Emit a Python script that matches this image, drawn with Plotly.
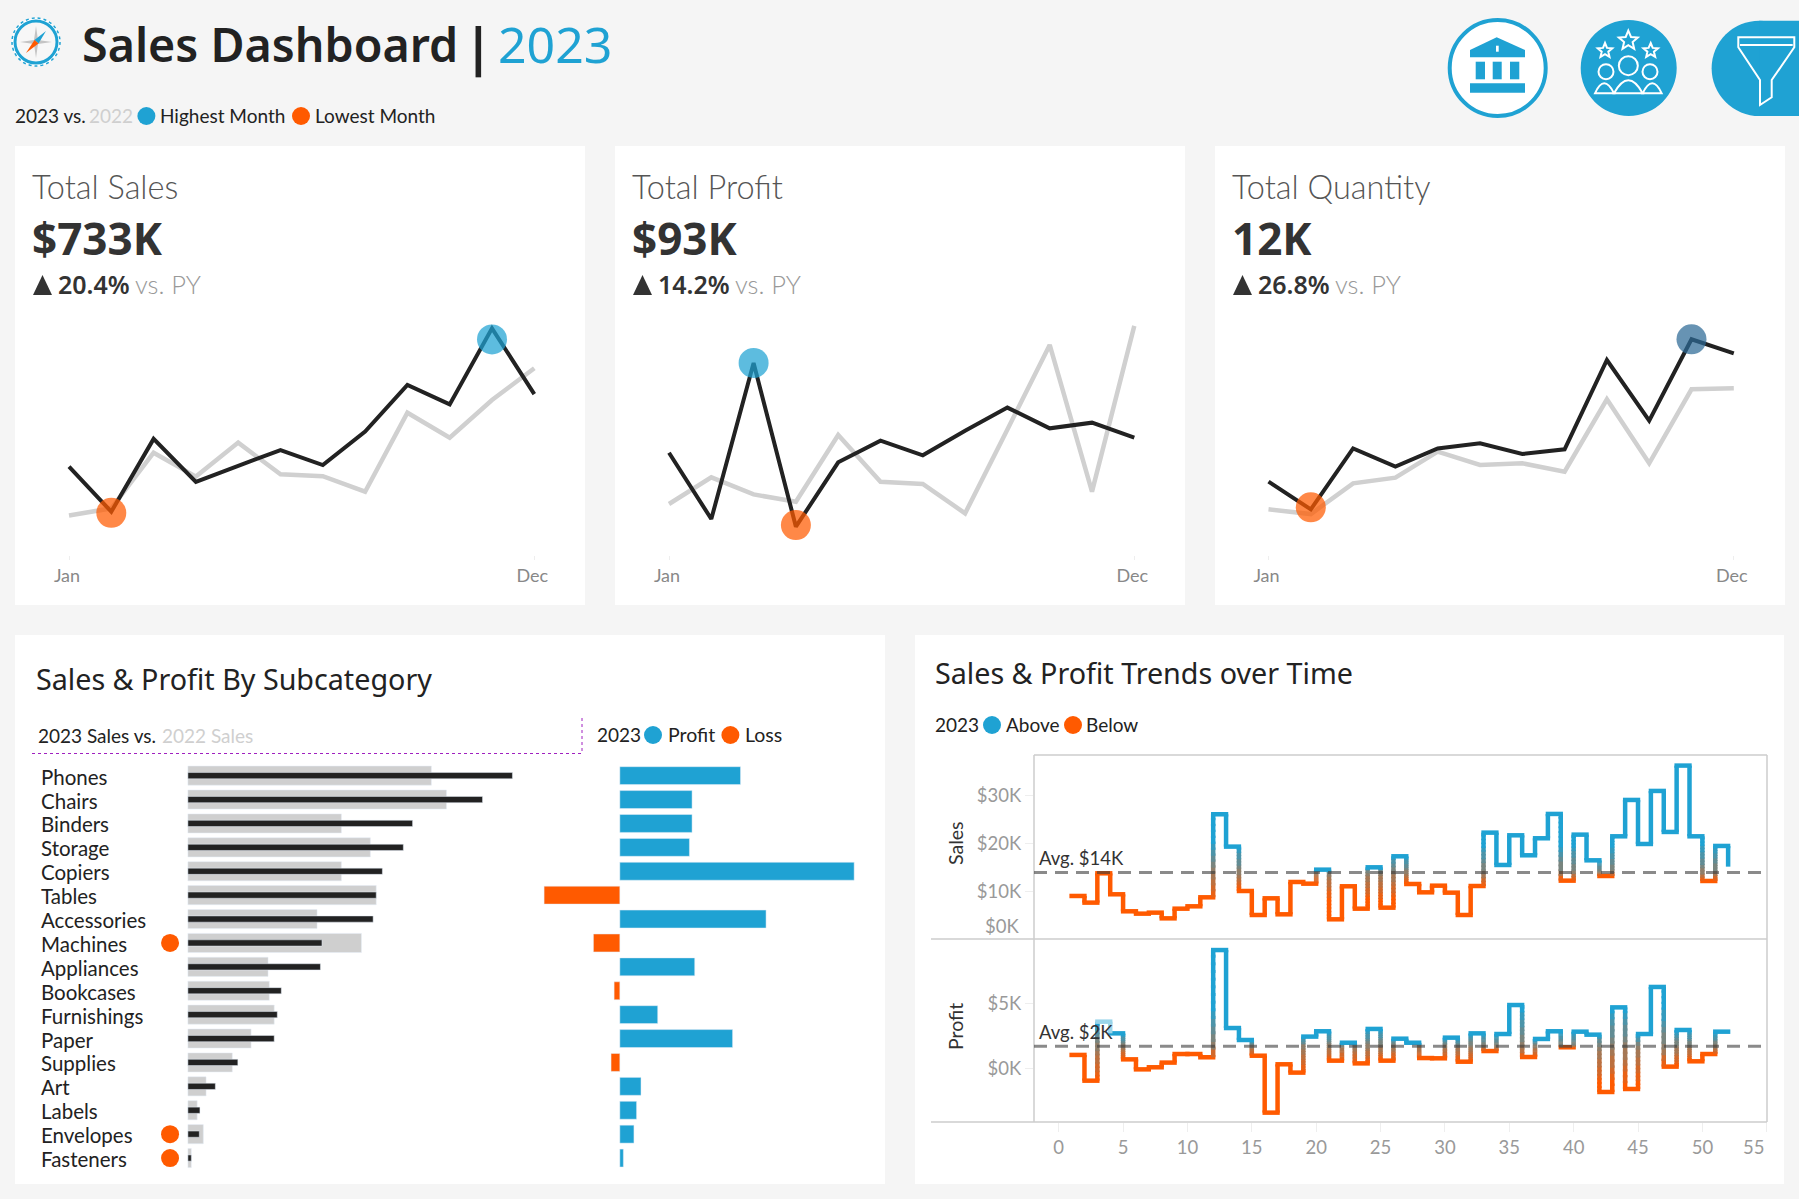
import math
import plotly.graph_objects as go

W, H = 1799, 1199
BG = "#F5F5F5"
BLUE = "#1FA2D3"
ORANGE = "#FF5A00"
LIGHT_BLUE = "#9AD5EA"
GREY_LINE = "#D0D0D0"
DARK = "#222222"
HEAD_FONT = "Noto Sans"
BODY_FONT = "Lato"

months = ["Jan", "Feb", "Mar", "Apr", "May", "Jun", "Jul", "Aug", "Sep", "Oct", "Nov", "Dec"]

sales_2023 = [44.1, 20.0, 59.0, 36.0, 44.6, 53.0, 45.0, 62.9, 87.9, 77.5, 118.2, 83.0]
sales_2022 = [18.0, 21.8, 51.6, 38.8, 57.0, 40.0, 39.0, 30.7, 73.0, 59.6, 79.8, 96.8]
profit_2023 = [7.18, 1.58, 14.76, 0.93, 6.37, 8.2, 6.96, 9.04, 10.99, 9.24, 9.72, 8.45]
profit_2022 = [2.85, 5.1, 3.66, 3.04, 8.68, 4.73, 4.54, 2.06, 9.15, 16.28, 3.89, 17.89]
quantity_2023 = [572, 337, 855, 700, 855, 898, 807, 847, 1606, 1091, 1782, 1663]
quantity_2022 = [337, 297, 558, 606, 827, 714, 728, 657, 1272, 728, 1357, 1365]

# marker month and height for each card, sales high dot sits a bit under the peak
sales_marks = {"high": ("Nov", 112.3), "low": ("Feb", 19.4)}
profit_marks = {"high": ("Mar", 14.76), "low": ("Apr", 1.07)}
quantity_marks = {"high": ("Nov", 1782), "low": ("Feb", 354)}

subcategories = ["Phones", "Chairs", "Binders", "Storage", "Copiers", "Tables", "Accessories", "Machines",
                 "Appliances", "Bookcases", "Furnishings", "Paper", "Supplies", "Art", "Labels", "Envelopes",
                 "Fasteners"]
sub_sales_2023 = [105.3, 95.6, 72.9, 69.9, 63.1, 61.1, 60.1, 43.5, 43.0, 30.3, 29.0, 28.0, 16.2, 8.9, 3.9, 3.7, 1.1]
sub_sales_2022 = [79.0, 83.9, 49.8, 59.2, 49.8, 61.1, 41.9, 56.3, 26.0, 26.4, 28.0, 20.5, 14.4, 5.9, 3.0, 5.0, 1.1]
sub_profit = [13.7, 8.2, 8.2, 7.9, 26.6, -8.6, 16.6, -3.0, 8.5, -0.65, 4.3, 12.8, -1.0, 2.4, 1.9, 1.6, 0.4]
flagged = ["Machines", "Envelopes", "Fasteners"]

weeks = list(range(1, 53))
weekly_sales = [8.98, 7.59, 13.71, 9.33, 5.78, 5.29, 5.50, 4.31, 6.33, 6.82, 8.70, 26.03, 19.28, 10.02, 5.01, 8.49,
                5.15, 11.90, 11.55, 14.47, 4.11, 11.0, 6.33, 14.96, 6.54, 17.26, 11.48, 9.74, 11.13, 9.67, 5.01,
                11.06, 22.2, 15.45, 21.64, 17.47, 21.02, 26.1, 12.18, 21.78, 16.42, 13.15, 21.43, 29.02, 19.83,
                30.9, 22.34, 36.19, 21.43, 12.11, 19.42, 15.1]
weekly_profit = [1.03, -0.95, 3.59, 2.69, 0.69, -0.08, 0.08, 0.44, 1.10, 1.10, 0.85, 9.10, 3.10, 2.18, 0.97, -3.41,
                 0.31, -0.33, 2.44, 2.85, 0.59, 1.97, 0.38, 3.03, 0.59, 2.28, 1.97, 0.79, 0.77, 2.36, 0.51, 2.69,
                 1.33, 2.64, 4.87, 0.87, 2.26, 2.85, 1.62, 2.82, 2.59, -1.82, 4.69, -1.59, 2.64, 6.26, 0.13, 2.95,
                 0.54, 1.10, 2.82, 2.82]
avg_sales = 13.9
avg_profit = 1.69


def dom_x(a, b):
    return [a / W, b / W]


def dom_y(top, bottom):
    return [1 - bottom / H, 1 - top / H]


fig = go.Figure()
shapes = []
notes = []


def text(x, y, s, size, color=DARK, anchor="left", font=BODY_FONT, weight=400, angle=0):
    notes.append(dict(x=x, y=y - 1, xref="x", yref="y", text=s, showarrow=False, xanchor=anchor, yanchor="middle",
                      textangle=angle, borderpad=0, font=dict(family=font, size=size, color=color, weight=weight)))


def rect(x0, y0, x1, y1, fill, layer="below"):
    shapes.append(dict(type="rect", xref="x", yref="y", x0=x0, y0=y0, x1=x1, y1=y1, fillcolor=fill,
                       line_width=0, layer=layer))


def line(x0, y0, x1, y1, color="#CCCCCC", width=1.5, dash="solid"):
    shapes.append(dict(type="line", xref="x", yref="y", x0=x0, y0=y0, x1=x1, y1=y1, layer="below",
                       line=dict(color=color, width=width, dash=dash)))


def circle(cx, cy, r, fill="rgba(0,0,0,0)", color=None, width=0, dash="solid"):
    shapes.append(dict(type="circle", xref="x", yref="y", x0=cx - r, y0=cy - r, x1=cx + r, y1=cy + r,
                       fillcolor=fill, layer="above", line=dict(color=color or fill, width=width, dash=dash)))


def poly(points, fill="rgba(0,0,0,0)", color=None, width=0, close=True):
    p = "M " + " L ".join(f"{x:.1f},{y:.1f}" for x, y in points) + (" Z" if close else "")
    shapes.append(dict(type="path", xref="x", yref="y", path=p, fillcolor=fill, layer="above",
                       line=dict(color=color or fill, width=width)))


def icon_pts(points):
    # icon outlines were measured on the 3x crop of the top right corner
    return [(1400 + x / 3, y / 3) for x, y in points]


def star_pts(cx, cy, r):
    pts = []
    for i in range(10):
        a = -math.pi / 2 + i * math.pi / 5
        rr = r if i % 2 == 0 else r * 0.45
        pts.append((cx + rr * math.cos(a), cy + rr * math.sin(a)))
    return icon_pts(pts)


# cards
rect(15, 146, 585, 605, "white")
rect(615, 146, 1185, 605, "white")
rect(1215, 146, 1785, 605, "white")
rect(15, 635, 885, 1184, "white")
rect(915, 635, 1784, 1184, "white")

# compass logo
circle(36, 42, 24, fill="white", color=BLUE, width=1.5, dash="dot")
circle(36, 42, 21, fill="#F7F7F7", color=BLUE, width=3)
poly([(36, 26), (38, 40), (52, 42), (38, 44), (36, 58), (34, 44), (20, 42), (34, 40)], fill="#C4C4C4")
poly([(46, 31), (38.5, 43.5), (34.5, 40)], fill=BLUE)
poly([(26, 53), (34.5, 40), (38.5, 43.5)], fill=ORANGE)

# header
text(81, 45, "Sales Dashboard", 46.6, DARK, font=HEAD_FONT, weight=600)
text(478, 46, "|", 52, DARK, anchor="center", font=HEAD_FONT, weight=700)
text(497, 45, "2023", 50, BLUE, font=HEAD_FONT)

text(14, 116, "2023 vs. ", 19, DARK)
text(88, 116, "2022", 19, "#CFCFCF")
text(159, 116, "Highest Month", 19, DARK)
text(314, 116, "Lowest Month", 19, DARK)

# bank icon
circle(1497.7, 68, 48, fill="white", color=BLUE, width=4)
poly(icon_pts([(210, 150), (290, 112), (375, 150), (375, 172), (210, 172)]), fill=BLUE)
poly(icon_pts([(288, 137), (296, 137), (296, 155), (288, 155)]), fill="white")
for cx0, cx1 in [(227, 255), (278, 305), (330, 358)]:
    poly(icon_pts([(cx0, 185), (cx1, 185), (cx1, 238), (cx0, 238)]), fill=BLUE)
poly(icon_pts([(210, 250), (375, 250), (375, 278), (210, 278)]), fill=BLUE)

# people icon
circle(1628.7, 68, 48, fill=BLUE)
poly(star_pts(685, 122, 30), color="white", width=2)
poly(star_pts(615, 152, 23), color="white", width=2)
poly(star_pts(752, 152, 23), color="white", width=2)
circle(1400 + 685 / 3, 197 / 3, 9.5, color="white", width=2)
circle(1400 + 618 / 3, 215 / 3, 7.5, color="white", width=2)
circle(1400 + 750 / 3, 215 / 3, 7.5, color="white", width=2)
for x0, xm, x1, top in [(642, 685, 728, 222), (585, 612, 642, 240), (728, 757, 785, 240)]:
    shapes.append(dict(type="path", xref="x", yref="y", layer="above", line=dict(color="white", width=2),
                       path=f"M {1400 + x0 / 3},{280 / 3} Q {1400 + xm / 3},{(top - 20) / 3} {1400 + x1 / 3},{280 / 3} Z"))

# filter icon, runs off the right edge
circle(1400 + 1078 / 3, 205 / 3, 47.7, fill=BLUE)
poly(icon_pts([(1078, 62), (1197, 62), (1197, 348), (1078, 348)]), fill=BLUE)
poly(icon_pts([(1015, 112), (1183, 112), (1183, 142), (1115, 240), (1115, 292), (1080, 315), (1080, 240), (1015, 142)]),
     color="white", width=2)
poly(icon_pts([(1020, 135), (1178, 135)]), color="white", width=2, close=False)


def kpi(x, title, value, change):
    text(x - 1, 187, title, 32.5, "#555555", font=BODY_FONT, weight=300)
    text(x - 1, 239, value, 44, "#333333", font=HEAD_FONT, weight=700)
    poly([(x + 1, 295), (x + 10.5, 275), (x + 20, 295)], fill="#333333")
    text(x + 25, 285, change, 25, "#333333", font=HEAD_FONT, weight=600)
    text(x + 102, 285, "vs. PY", 25.5, "#999999", font=BODY_FONT, weight=300)


kpi(32, "Total Sales", "$733K", "20.4%")
kpi(632, "Total Profit", "$93K", "14.2%")
kpi(1232, "Total Quantity", "12K", "26.8%")

# legend dots on the page go through the page axes
dot_x = [146.4, 301, 653, 730.4, 992, 1073]
dot_y = [116, 116, 735, 735, 725, 725]
dot_c = [BLUE, ORANGE, BLUE, ORANGE, BLUE, ORANGE]
fig.add_trace(go.Scatter(x=dot_x, y=dot_y, mode="markers", marker=dict(color=dot_c, size=18), xaxis="x", yaxis="y",
                         hoverinfo="skip", showlegend=False))

axes = dict(
    xaxis=dict(domain=[0, 1], range=[0, W], visible=False, fixedrange=True, automargin=False),
    yaxis=dict(domain=[0, 1], range=[H, 0], visible=False, fixedrange=True, automargin=False),
)


def spark(n, jan_px, cur, prev, marks, y_range):
    xa, ya = f"x{n}", f"y{n}"
    step = 42.3
    left, right = jan_px - 50, jan_px + 11 * step + 46
    axes[f"xaxis{n}"] = dict(domain=dom_x(left, right), range=[-50 / step, 11 + 46 / step], anchor=ya, type="category",
                             categoryorder="array", categoryarray=months, tickmode="array", tickvals=["Jan", "Dec"],
                             ticks="outside", ticklen=4, tickcolor="#EEEEEE", showgrid=False, zeroline=False,
                             showline=False, automargin=False, ticklabelshift=-2,
                             tickfont=dict(family=BODY_FONT, size=18, color="#888888"))
    axes[f"yaxis{n}"] = dict(domain=dom_y(300, 555), range=y_range, visible=False, automargin=False)
    fig.add_trace(go.Scatter(x=months, y=prev, mode="lines", line=dict(color=GREY_LINE, width=4.5), xaxis=xa, yaxis=ya,
                             showlegend=False))
    fig.add_trace(go.Scatter(x=months, y=cur, mode="lines", line=dict(color=DARK, width=4), xaxis=xa, yaxis=ya,
                             showlegend=False))
    high_color = "#2C6A96" if n == 4 else BLUE
    fig.add_trace(go.Scatter(x=[marks["high"][0], marks["low"][0]], y=[marks["high"][1], marks["low"][1]],
                             mode="markers", marker=dict(color=[high_color, ORANGE], size=30, opacity=0.72),
                             xaxis=xa, yaxis=ya, showlegend=False))


spark(2, 69, sales_2023, sales_2022, sales_marks, [-3.2, 133.4])
spark(3, 669, profit_2023, profit_2022, profit_marks, [-1.46, 20.08])
spark(4, 1268.5, quantity_2023, quantity_2022, quantity_marks, [-51, 2116])

# subcategory panel
text(35, 679, "Sales & Profit By Subcategory", 28.7, DARK, font=HEAD_FONT)
text(37, 736, "2023 Sales vs. ", 19, DARK)
text(161, 736, "2022 Sales", 19, "#CFCFCF")
line(32, 753.5, 582, 753.5, "#A020C0", 1, "dot")
line(582, 718, 582, 753.5, "#A020C0", 1, "dot")
text(596, 735, "2023", 19, DARK)
text(667, 735, "Profit", 19.5, DARK)
text(744, 735, "Loss", 19.5, DARK)

n_rows = len(subcategories)
row_range = [n_rows - 0.5, -0.5]
sub_top, sub_bot = 763.7, 1170
axes["xaxis5"] = dict(domain=dom_x(160, 530), range=[-9.06, 111], visible=False, anchor="y5", automargin=False)
axes["yaxis5"] = dict(domain=dom_y(sub_top, sub_bot), range=row_range, type="category", categoryorder="array",
                      categoryarray=subcategories, visible=False, anchor="x5", automargin=False)
axes["xaxis6"] = dict(domain=dom_x(530, 870), range=[-10.2, 28.4], visible=False, anchor="y6", automargin=False)
axes["yaxis6"] = dict(domain=dom_y(sub_top, sub_bot), range=row_range, type="category", categoryorder="array",
                      categoryarray=subcategories, visible=False, anchor="x6", automargin=False)

fig.add_trace(go.Bar(y=subcategories, x=sub_sales_2022, orientation="h", marker_color="#CFCFCF", width=0.8,
                     xaxis="x5", yaxis="y5", showlegend=False))
fig.add_trace(go.Bar(y=subcategories, x=sub_sales_2023, orientation="h", marker_color=DARK, width=0.26,
                     xaxis="x5", yaxis="y5", showlegend=False))
fig.update_layout(barmode="overlay")
fig.add_trace(go.Scatter(x=[-5.8] * len(flagged), y=flagged, mode="markers", marker=dict(color=ORANGE, size=18),
                         xaxis="x5", yaxis="y5", showlegend=False))
fig.add_trace(go.Bar(y=subcategories, x=sub_profit, orientation="h", width=0.75,
                     marker_color=[BLUE if p >= 0 else ORANGE for p in sub_profit],
                     xaxis="x6", yaxis="y6", showlegend=False))
for name in subcategories:
    notes.append(dict(x=40, y=name, xref="x", yref="y5", text=name, showarrow=False, xanchor="left", yanchor="middle",
                      yshift=-1, borderpad=0, font=dict(family=BODY_FONT, size=20.5, color=DARK)))

# trend panel
text(934, 673, "Sales & Profit Trends over Time", 28.7, DARK, font=HEAD_FONT)
text(934, 725, "2023", 19, DARK)
text(1005, 725, "Above", 19, DARK)
text(1085, 725, "Below", 19, DARK)
text(955, 845, "Sales", 19.5, "#333333", anchor="center", angle=-90)
text(955, 1028, "Profit", 19.5, "#333333", anchor="center", angle=-90)

line(1034, 755, 1767, 755)
line(1034, 755, 1034, 1122)
line(1767, 755, 1767, 1122)
line(931, 939, 1767, 939)
line(931, 1122, 1767, 1122)

x_range = [-1.92, 55.02]
x_ticks = list(range(0, 56, 5))
# the 55 label is pulled inside the frame in the original, so it gets placed by hand below
x_tick_text = [str(t) if t < 55 else "" for t in x_ticks]
axes["xaxis7"] = dict(domain=dom_x(1034, 1767), range=x_range, anchor="y7", visible=False, automargin=False)
axes["yaxis7"] = dict(domain=dom_y(755, 939), range=[0, 38.4], anchor="x7", tickmode="array", tickvals=[10, 20, 30],
                      ticktext=["$10K", "$20K", "$30K"], ticks="outside", ticklen=8, tickcolor="#EEEEEE",
                      showgrid=False, zeroline=False, showline=False, automargin=False,
                      tickfont=dict(family=BODY_FONT, size=18.5, color="#999999"))
axes["xaxis8"] = dict(domain=dom_x(1034, 1767), range=x_range, anchor="y8", tickmode="array",
                      tickvals=x_ticks, ticktext=x_tick_text, ticks="outside", ticklen=9, tickcolor="#EEEEEE",
                      showgrid=False, zeroline=False, showline=False, automargin=False,
                      tickfont=dict(family=BODY_FONT, size=18.5, color="#999999"))
axes["yaxis8"] = dict(domain=dom_y(939, 1122), range=[-4.13, 9.95], anchor="x8", tickmode="array", tickvals=[0, 5],
                      ticktext=["$0K", "$5K"], ticks="outside", ticklen=8, tickcolor="#EEEEEE",
                      showgrid=False, zeroline=False, showline=False, automargin=False,
                      tickfont=dict(family=BODY_FONT, size=18.5, color="#999999"))
text(1020, 927, "$0K", 18.5, "#999999", anchor="right")
text(1753, 1148, "55", 18.5, "#999999", anchor="center")


def mix(t):
    # t=0 is orange, t=1 is blue
    c0, c1 = (255, 90, 0), (31, 162, 211)
    return "rgb({},{},{})".format(*[round(a + (b - a) * t) for a, b in zip(c0, c1)])


def step_traces(xa, ya, values, avg, cap, faded=None):
    # a step line that has gradient risers where it crosses the average, tableau style
    groups = {}

    def seg(color, x0, y0, x1, y1):
        g = groups.setdefault(color, ([], []))
        g[0].extend([x0, x1, None])
        g[1].extend([y0, y1, None])

    pad = 0.17
    for i, v in enumerate(values):
        wk = weeks[i]
        level = LIGHT_BLUE if wk == faded else (mix(1) if v >= avg else mix(0))
        if i < len(values) - 1:
            nxt = values[i + 1]
            lo, hi = min(v, nxt), max(v, nxt)
            if lo >= avg or hi < avg:
                color = level if wk == faded else (mix(1) if lo >= avg else mix(0))
                seg(color, wk + 1, v, wk + 1, nxt)
            else:
                n_parts = 14
                part = (hi - lo) / n_parts
                d_hi, d_lo = min(hi - avg, cap), min(avg - lo, cap)
                for p in range(n_parts):
                    y0 = lo + part * p
                    mid = y0 + part / 2
                    if mid >= avg:
                        t = 0.5 + 0.5 * min((mid - avg) / d_hi, 1)
                    else:
                        t = 0.5 - 0.5 * min((avg - mid) / d_lo, 1)
                    # overlap a little so the pieces do not show seams
                    seg(mix(round(t * 10) / 10), wk + 1, y0, wk + 1, min(y0 + part * 1.4, hi))
    for i, v in enumerate(values[:-1]):
        wk = weeks[i]
        level = LIGHT_BLUE if wk == faded else (mix(1) if v >= avg else mix(0))
        seg(level, wk - pad, v, wk + 1 + pad, v)
    for color, (xs, ys) in groups.items():
        fig.add_trace(go.Scatter(x=xs, y=ys, mode="lines", line=dict(color=color, width=4.5), xaxis=xa, yaxis=ya,
                                 hoverinfo="skip", showlegend=False, connectgaps=False))


step_traces("x7", "y7", weekly_sales, avg_sales, 6)
step_traces("x8", "y8", weekly_profit, avg_profit, 3, faded=3)
for xa, ya, avg in [("x7", "y7", avg_sales), ("x8", "y8", avg_profit)]:
    fig.add_trace(go.Scatter(x=x_range, y=[avg, avg], mode="lines", xaxis=xa, yaxis=ya, showlegend=False,
                             line=dict(color="rgba(60,60,60,0.6)", width=3, dash="13px,8px")))
text(1038, 859, "Avg. $14K", 18.5, "#333333")
text(1038, 1033, "Avg. $2K", 18.5, "#333333")

fig.update_layout(
    width=W, height=H, margin=dict(l=0, r=0, t=0, b=0, pad=0),
    paper_bgcolor=BG, plot_bgcolor="rgba(0,0,0,0)",
    showlegend=False, shapes=shapes, annotations=notes,
    font=dict(family=BODY_FONT),
    **axes,
)

fig.write_html("out.html", config={"displayModeBar": False},
               post_script="document.body.style.margin='0';document.body.style.background='#F5F5F5';")
